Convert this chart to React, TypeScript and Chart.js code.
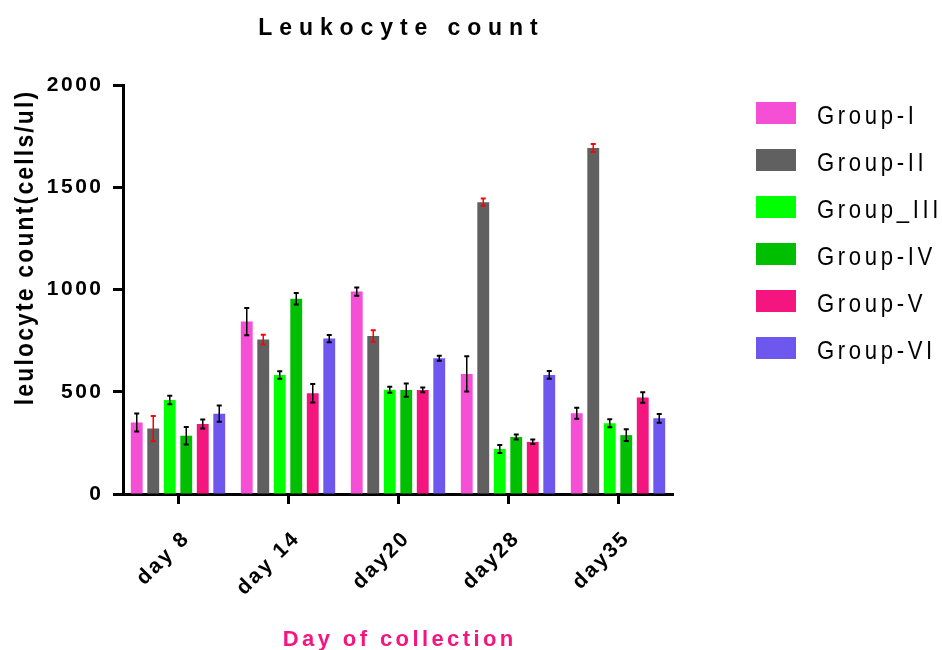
import React, { useEffect, useRef } from "react";
import { Chart, registerables } from "chart.js";

Chart.register(...registerables);

// ---------- data ----------
const days = ["day 8", "day 14", "day20", "day28", "day35"];
const groupNames = ["Group-I", "Group-II", "Group_III", "Group-IV", "Group-V", "Group-VI"];

const groupI = [350, 843, 990, 587, 395];
const groupII = [320, 755, 773, 1427, 1692];
const groupIII = [460, 582, 510, 220, 346];
const groupIV = [285, 955, 508, 279, 288];
const groupV = [342, 493, 509, 255, 472];
const groupVI = [393, 760, 664, 582, 370];

const errI = [44, 67, 20, 86, 27];
const errII = [62, 24, 28, 18, 20];
const errIII = [21, 18, 15, 19, 19];
const errIV = [43, 28, 32, 12, 29];
const errV = [22, 45, 12, 11, 26];
const errVI = [40, 18, 12, 19, 21];

const yTickStep = 500;
const yMin = 0;
const yMax = 2000;

const chartTitle = "Leukocyte count";
const yTitle = "leulocyte count(cells/ul)";
const xTitle = "Day of collection";

// ---------- styles ----------
const FONT = "'Liberation Sans', Arial, sans-serif";
const barColors = ["#F54FD6", "#606060", "#00FF00", "#00BF00", "#F5157F", "#6E57EE"];
const errColors = ["#000000", "#FF0000", "#000000", "#000000", "#000000", "#000000"];

const seriesValues = [groupI, groupII, groupIII, groupIV, groupV, groupVI];
const seriesErrors = [errI, errII, errIII, errIV, errV, errVI];

function drawText(
  ctx: CanvasRenderingContext2D,
  text: string,
  x: number,
  y: number,
  o: { font: string; color: string; spacing: number; align: CanvasTextAlign; rotate?: number; scaleX?: number }
) {
  ctx.save();
  ctx.translate(x, y);
  if (o.rotate) ctx.rotate(o.rotate);
  if (o.scaleX) ctx.scale(o.scaleX, 1);
  (ctx as any).letterSpacing = o.spacing + "px";
  ctx.font = o.font;
  ctx.fillStyle = o.color;
  ctx.textAlign = o.align;
  ctx.textBaseline = "alphabetic";
  const dx = o.align === "center" ? o.spacing / 2 : 0;
  ctx.fillText(text, dx, 0);
  ctx.restore();
}

const spacingPlugin = {
  id: "spacing",
  beforeDraw(chart: any) {
    chart.ctx.letterSpacing = "2.5px";
  },
};

const errorBarPlugin = {
  id: "errbars",
  afterDatasetsDraw(chart: any) {
    const ctx: CanvasRenderingContext2D = chart.ctx;
    const ys = chart.scales.y;
    chart.data.datasets.forEach((ds: any, i: number) => {
      const meta = chart.getDatasetMeta(i);
      const errs = seriesErrors[i];
      meta.data.forEach((el: any, j: number) => {
        const v = ds.data[j];
        const e = errs[j];
        const x = el.x;
        const t = ys.getPixelForValue(v + e);
        const b = ys.getPixelForValue(v - e);
        ctx.save();
        ctx.strokeStyle = errColors[i];
        ctx.lineWidth = 1.5;
        ctx.beginPath();
        ctx.moveTo(x, t);
        ctx.lineTo(x, b);
        ctx.stroke();
        ctx.lineWidth = 2;
        ctx.beginPath();
        ctx.moveTo(x - 2.5, t);
        ctx.lineTo(x + 2.5, t);
        ctx.moveTo(x - 2.5, b);
        ctx.lineTo(x + 2.5, b);
        ctx.stroke();
        ctx.restore();
      });
    });
  },
};

const textPlugin = {
  id: "texts",
  afterDraw(chart: any) {
    const ctx: CanvasRenderingContext2D = chart.ctx;
    const ca = chart.chartArea;
    const cx = (ca.left + ca.right) / 2;
    // title
    drawText(ctx, chartTitle, cx, 35, {
      font: `bold 23px ${FONT}`,
      color: "#000",
      spacing: 6.9,
      align: "center",
    });
    // y title
    drawText(ctx, yTitle, 33, 248.5, {
      font: `bold 26px ${FONT}`,
      color: "#000",
      spacing: 2.5,
      align: "center",
      rotate: -Math.PI / 2,
      scaleX: 0.88,
    });
    // x title
    drawText(ctx, xTitle, cx, 646, {
      font: `bold 22px ${FONT}`,
      color: "#F5157F",
      spacing: 3.4,
      align: "center",
    });
    // legend
    chart.data.datasets.forEach((ds: any, i: number) => {
      const top = ca.top + 17 + 47 * i;
      ctx.save();
      ctx.fillStyle = ds.backgroundColor;
      ctx.fillRect(ca.right + 83, top, 40, 22);
      ctx.restore();
      drawText(ctx, ds.label, ca.right + 144, top + 22, {
        font: `26px ${FONT}`,
        color: "#000",
        spacing: 4.3,
        align: "left",
        scaleX: 0.85,
      });
    });
  },
};

export default function App() {
  const ref = useRef<HTMLCanvasElement | null>(null);

  useEffect(() => {
    if (!ref.current) return;
    const tickFont = { family: FONT, size: 21, weight: "bold" as const };
    const chart = new Chart(ref.current, {
      type: "bar",
      data: {
        labels: days,
        datasets: groupNames.map((name, i) => ({
          label: name,
          data: seriesValues[i],
          backgroundColor: barColors[i],
          borderWidth: 0,
          categoryPercentage: 0.9,
          barPercentage: 0.72,
        })),
      },
      options: {
        responsive: false,
        animation: false,
        events: [],
        layout: { padding: { left: 0, top: 85, right: 269, bottom: 0 } },
        plugins: {
          legend: { display: false },
          title: { display: false },
          tooltip: { enabled: false },
        },
        scales: {
          x: {
            offset: true,
            ticks: {
              font: tickFont,
              color: "#000",
              minRotation: 45,
              maxRotation: 45,
              autoSkip: false,
              padding: 22,
              labelOffset: 9,
            },
            grid: {
              drawOnChartArea: false,
              drawTicks: true,
              tickLength: 10,
              tickWidth: 3,
              tickColor: "#000",
              offset: false,
            },
            border: { display: true, width: 3, color: "#000" },
            afterFit: (scale: any) => {
              scale.height = 156;
            },
          },
          y: {
            min: yMin,
            max: yMax,
            ticks: {
              stepSize: yTickStep,
              font: tickFont,
              color: "#000",
              padding: 9.5,
              callback: (v: any) => String(v),
            },
            grid: {
              drawOnChartArea: false,
              drawTicks: true,
              tickLength: 10,
              tickWidth: 3,
              tickColor: "#000",
            },
            border: { display: true, width: 3, color: "#000" },
            afterFit: (scale: any) => {
              scale.width = 123;
            },
          },
        },
      },
      plugins: [spacingPlugin, errorBarPlugin, textPlugin],
    });
    return () => chart.destroy();
  }, []);

  return (
    <div style={{ position: "fixed", left: 0, top: 0, width: 942, height: 650, background: "#fff" }}>
      <canvas ref={ref} width={942} height={650} style={{ display: "block" }} />
    </div>
  );
}
